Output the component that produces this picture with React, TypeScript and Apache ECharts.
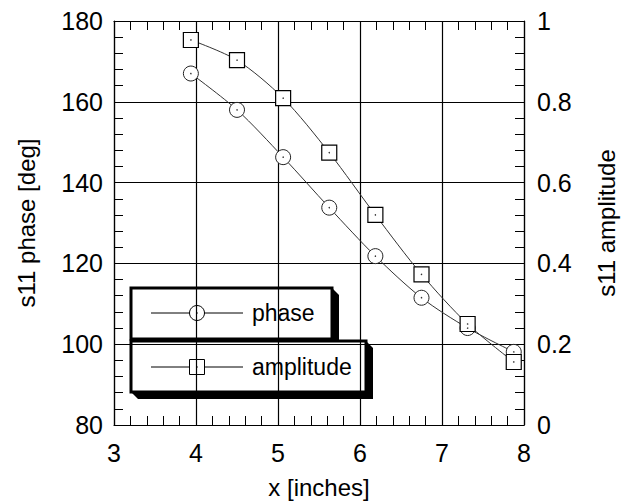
import React, { useEffect, useRef } from "react";
import * as echarts from "echarts";

const xInches = [3.9375, 4.5, 5.0625, 5.625, 6.1875, 6.75, 7.3125, 7.875];
const phaseDeg = [167.0, 158.0, 146.3, 133.8, 121.8, 111.5, 104.0, 98.1];
const amplitude = [0.953, 0.903, 0.809, 0.674, 0.52, 0.373, 0.25, 0.156];
const seriesNames = ["phase", "amplitude"];
const axisTitles = { x: "x [inches]", left: "s11 phase [deg]", right: "s11 amplitude" };

const FONT = "Liberation Sans, Arial, sans-serif";

export default function App() {
  const ref = useRef<HTMLDivElement>(null);
  useEffect(() => {
    if (!ref.current) return;
    const chart = echarts.init(ref.current, undefined, { renderer: "svg" });
    const phasePts = xInches.map((x, i) => [x, phaseDeg[i]]);
    const ampPts = xInches.map((x, i) => [x, amplitude[i]]);
    const labelStyle = { color: "#000", fontSize: 25, fontFamily: FONT };
    const titleStyle = { color: "#000", fontSize: 24, fontFamily: FONT };
    const tickCommon = {
      axisLine: { show: true, lineStyle: { color: "#000", width: 1.2 } },
      axisTick: { show: true, inside: true, length: 9, lineStyle: { color: "#000" } },
      minorTick: { show: true, splitNumber: 5, length: 9, lineStyle: { color: "#000" } },
    };
    const legendBox = (x1: number, y1: number, x2: number, y2: number, sym: "circle" | "square", text: string, ly: number) => {
      const d = 7;
      const children: any[] = [
        {
          type: "polygon",
          shape: { points: [[x2, y1], [x2 + d, y1 + d], [x2 + d, y2 + d], [x1 + d, y2 + d], [x1, y2]] },
          style: { fill: "#000" },
        },
        { type: "rect", shape: { x: x1, y: y1, width: x2 - x1, height: y2 - y1 }, style: { fill: "#fff", stroke: "#000", lineWidth: 3 } },
        { type: "line", shape: { x1: 151, y1: ly, x2: 243, y2: ly }, style: { stroke: "#000", lineWidth: 1 } },
        sym === "circle"
          ? { type: "circle", shape: { cx: 197, cy: ly, r: 7.5 }, style: { fill: "#fff", stroke: "#000", lineWidth: 1 } }
          : { type: "rect", shape: { x: 189.5, y: ly - 7.5, width: 15, height: 15 }, style: { fill: "#fff", stroke: "#000", lineWidth: 1 } },
        { type: "circle", shape: { cx: 197, cy: ly, r: 0.7 }, style: { fill: "#000" } },
        { type: "text", x: 252, y: ly, style: { text, fill: "#000", fontSize: 23, fontFamily: FONT, verticalAlign: "middle", textAlign: "left" } },
      ];
      return { type: "group", children };
    };
    chart.setOption({
      animation: false,
      backgroundColor: "#fff",
      grid: { left: 114, right: 97, top: 21, bottom: 77, show: false, containLabel: false, outerBoundsMode: "none" },
      xAxis: [
        {
          type: "value", min: 3, max: 8, interval: 1, position: "bottom",
          ...tickCommon,
          axisLabel: { ...labelStyle, margin: 15 },
          splitLine: { show: true, lineStyle: { color: "#000", width: 1.2 } },
          name: axisTitles.x, nameLocation: "middle", nameGap: 50,
          nameTextStyle: titleStyle,
        },
        {
          type: "value", min: 3, max: 8, interval: 1, position: "top",
          ...tickCommon,
          axisLabel: { show: false },
          splitLine: { show: false },
        },
      ],
      yAxis: [
        {
          type: "value", min: 80, max: 180, interval: 20, position: "left",
          ...tickCommon,
          axisLabel: { ...labelStyle, margin: 11 },
          splitLine: { show: true, lineStyle: { color: "#000", width: 1.2 } },
          name: axisTitles.left, nameLocation: "middle", nameGap: 76, nameRotate: 90,
          nameTextStyle: titleStyle,
        },
        {
          type: "value", min: 0, max: 1, interval: 0.2, position: "right",
          ...tickCommon,
          axisLabel: { ...labelStyle, margin: 13, formatter: (v: number) => (v === 0 || v === 1 ? String(v) : v.toFixed(1)) },
          splitLine: { show: false },
          name: axisTitles.right, nameLocation: "middle", nameGap: 70, nameRotate: 90,
          nameTextStyle: titleStyle,
        },
      ],
      series: [
        {
          name: seriesNames[0], type: "line", data: phasePts, yAxisIndex: 0, smooth: 0.3,
          symbol: "circle", symbolSize: 15,
          lineStyle: { color: "#333", width: 1 },
          itemStyle: { color: "#fff", borderColor: "#222", borderWidth: 1 },
          z: 3,
        },
        {
          name: seriesNames[1], type: "line", data: ampPts, yAxisIndex: 1, smooth: 0.3,
          symbol: "rect", symbolSize: 15,
          lineStyle: { color: "#333", width: 1 },
          itemStyle: { color: "#fff", borderColor: "#000", borderWidth: 1.2 },
          z: 3,
        },
        {
          type: "scatter", data: phasePts, yAxisIndex: 0, symbol: "circle", symbolSize: 1.5,
          itemStyle: { color: "#000" }, z: 5, silent: true,
        },
        {
          type: "scatter", data: ampPts, yAxisIndex: 1, symbol: "circle", symbolSize: 1.5,
          itemStyle: { color: "#000" }, z: 5, silent: true,
        },
      ],
      graphic: [
        legendBox(131, 288, 332, 339, "circle", seriesNames[0], 313),
        legendBox(131, 341, 366, 392, "square", seriesNames[1], 367),
      ],
    });
    return () => chart.dispose();
  }, []);
  return <div ref={ref} style={{ position: "fixed", left: 0, top: 0, width: 621, height: 502, background: "#fff" }} />;
}
